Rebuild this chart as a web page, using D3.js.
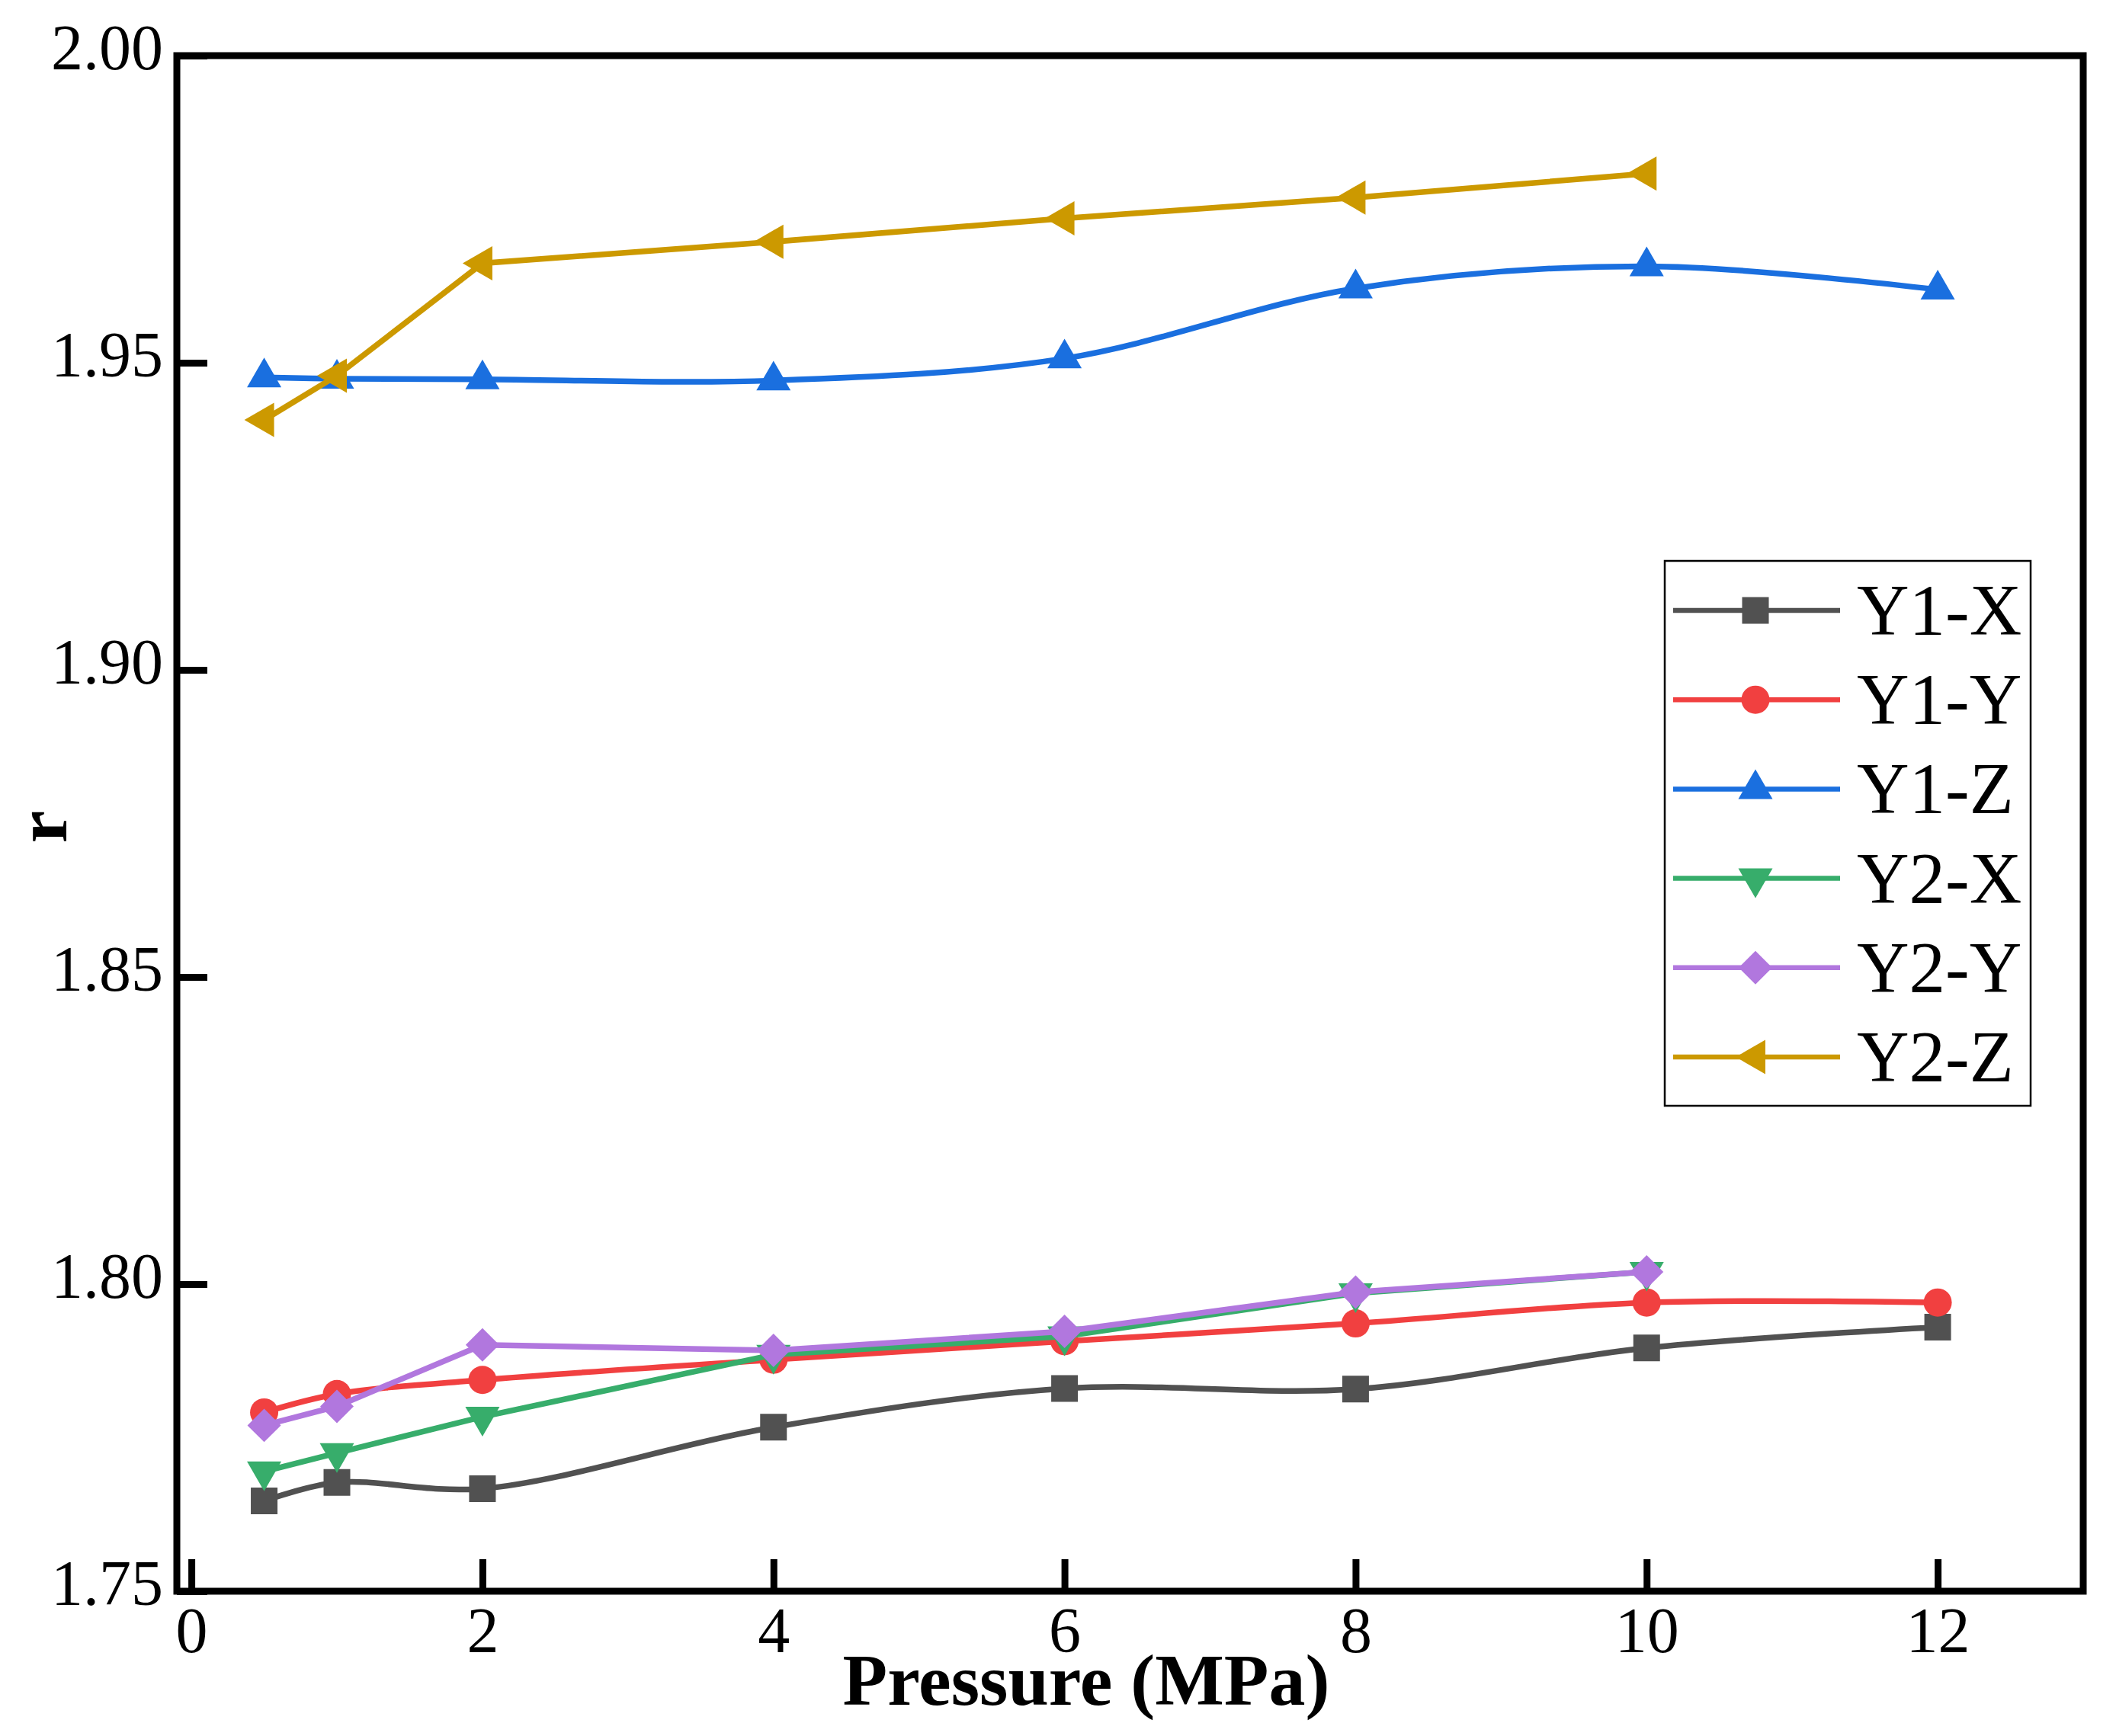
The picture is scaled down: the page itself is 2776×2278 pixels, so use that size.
<html>

<head>
    <style>
        body {
          margin: 0;
          background: white;
        }
        text {
          font-family: "Liberation Serif", "Times New Roman", serif;
        }
    </style>
</head>

<body>
    <svg id="chart" width="2776" height="2278">
        <rect width="2776" height="2278" fill="white"></rect>
        <g id="axes"></g>
        <g id="body"></g>
        <g id="legend"></g>
    </svg>
</body>
<script src="https://cdn.jsdelivr.net/npm/d3@7"></script>
<script>
    let pressureY1 = [0.5, 1, 2, 4, 6, 8, 10, 12]
    let pressureY2 = [0.5, 1, 2, 4, 6, 8, 10]

    let y1X = [1.7647, 1.7677, 1.7667, 1.7767, 1.7830, 1.7829, 1.7896, 1.7930]
    let y1Y = [1.7791, 1.7821, 1.7844, 1.7877, 1.7907, 1.7936, 1.7970, 1.7970]
    let y1Z = [1.9476, 1.9474, 1.9473, 1.9471, 1.9507, 1.9621, 1.9657, 1.9619]
    let y2X = [1.7695, 1.7725, 1.7784, 1.7885, 1.7915, 1.7985, 1.8020]
    let y2Y = [1.7770, 1.7801, 1.7901, 1.7892, 1.7923, 1.7987, 1.8020]
    let y2Z = [1.9407, 1.9479, 1.9662, 1.9697, 1.9735, 1.9769, 1.9808]

    let seriesNames = ["Y1-X", "Y1-Y", "Y1-Z", "Y2-X", "Y2-Y", "Y2-Z"]
    let seriesColors = ["#515151", "#F14040", "#1A6FDF", "#37AD6B", "#B177DE", "#CC9900"]

    let xTicks = [0, 2, 4, 6, 8, 10, 12]
    let yTicks = [1.75, 1.80, 1.85, 1.90, 1.95, 2.00]

    let series = [
        { name: seriesNames[0], color: seriesColors[0], shape: "square", smooth: true, x: pressureY1, y: y1X },
        { name: seriesNames[1], color: seriesColors[1], shape: "circle", smooth: true, x: pressureY1, y: y1Y },
        { name: seriesNames[2], color: seriesColors[2], shape: "up", smooth: true, x: pressureY1, y: y1Z },
        { name: seriesNames[3], color: seriesColors[3], shape: "down", smooth: false, x: pressureY2, y: y2X },
        { name: seriesNames[4], color: seriesColors[4], shape: "diamond", smooth: false, x: pressureY2, y: y2Y },
        { name: seriesNames[5], color: seriesColors[5], shape: "left", smooth: false, x: pressureY2, y: y2Z }
    ]

    let plotLeft = 232, plotRight = 2733, plotTop = 73, plotBottom = 2088

    let xScale = d3.scaleLinear().domain([-0.1, 13.0]).range([plotLeft, plotRight])
    let yScale = d3.scaleLinear().domain([1.75, 2.00]).range([plotBottom, plotTop])

    let axes = d3.select("#axes")
    let body = d3.select("#body")
    let legend = d3.select("#legend")

    // axes with inward ticks
    let yAxis = axes.append("g")
        .attr("transform", `translate(${plotLeft},0)`)
        .call(d3.axisLeft(yScale).tickValues(yTicks).tickSize(-40).tickPadding(18).tickFormat(d3.format(".2f")))
    let xAxis = axes.append("g")
        .attr("transform", `translate(0,${plotBottom})`)
        .call(d3.axisBottom(xScale).tickValues(xTicks).tickSize(-42).tickPadding(20).tickFormat(d3.format("d")))

    for (let a of [yAxis, xAxis]) {
        a.select(".domain").remove()
        a.selectAll("line").attr("stroke", "black").attr("stroke-width", 9)
        a.selectAll("text")
            .attr("fill", "black")
            .style("font-family", "'Liberation Serif', 'Times New Roman', serif")
            .style("font-size", "84px")
    }
    yAxis.selectAll("text").attr("dy", "0.21em")

    axes.append("rect")
        .attr("x", plotLeft).attr("y", plotTop)
        .attr("width", plotRight - plotLeft).attr("height", plotBottom - plotTop)
        .attr("fill", "none").attr("stroke", "black").attr("stroke-width", 9)

    axes.append("text")
        .attr("x", 1425).attr("y", 2237)
        .attr("text-anchor", "middle")
        .style("font-size", "96px").style("font-weight", "bold")
        .text("Pressure (MPa)")

    axes.append("text")
        .attr("transform", "translate(87,1085) rotate(-90)")
        .attr("text-anchor", "middle")
        .style("font-size", "96px").style("font-weight", "bold")
        .text("r")

    function marker(shape) {
        if (shape == "square") return { d: d3.symbol(d3.symbolSquare, 1225)(), rot: 0 }
        if (shape == "circle") return { d: d3.symbol(d3.symbolCircle, 1075)(), rot: 0 }
        if (shape == "diamond") return { d: d3.symbol(d3.symbolSquare, 967)(), rot: 45 }
        let tri = d3.symbol(d3.symbolTriangle, 877)()
        if (shape == "up") return { d: tri, rot: 0 }
        if (shape == "down") return { d: tri, rot: 180 }
        return { d: tri, rot: -90 }
    }

    let straight = d3.line().x(d => xScale(d[0])).y(d => yScale(d[1]))
    let smooth = d3.line().x(d => xScale(d[0])).y(d => yScale(d[1])).curve(d3.curveCatmullRom.alpha(0.5))

    for (let s of series) {
        let pts = s.x.map((p, i) => [p, s.y[i]])
        let g = body.append("g")
        g.append("path")
            .attr("d", s.smooth ? smooth(pts) : straight(pts))
            .attr("fill", "none")
            .attr("stroke", s.color)
            .attr("stroke-width", 7.5)
        let m = marker(s.shape)
        g.selectAll(".pt").data(pts)
            .enter().append("path")
            .attr("class", "pt")
            .attr("d", m.d)
            .attr("transform", d => `translate(${xScale(d[0])},${yScale(d[1])}) rotate(${m.rot})`)
            .attr("fill", s.color)
    }

    // legend
    legend.append("rect")
        .attr("x", 2184).attr("y", 736)
        .attr("width", 480).attr("height", 715)
        .attr("fill", "white").attr("stroke", "black").attr("stroke-width", 2.5)

    series.forEach((s, i) => {
        let rowY = 801 + i * 117.2
        let row = legend.append("g").attr("transform", `translate(0,${rowY})`)
        row.append("line")
            .attr("x1", 2195).attr("x2", 2414)
            .attr("stroke", s.color).attr("stroke-width", 6.5)
        let m = marker(s.shape)
        row.append("path")
            .attr("d", m.d)
            .attr("transform", `translate(2303,0) rotate(${m.rot})`)
            .attr("fill", s.color)
        row.append("text")
            .attr("x", 2436).attr("y", 32)
            .style("font-size", "95px")
            .attr("fill", "black")
            .text(s.name)
    })
</script>

</html>
